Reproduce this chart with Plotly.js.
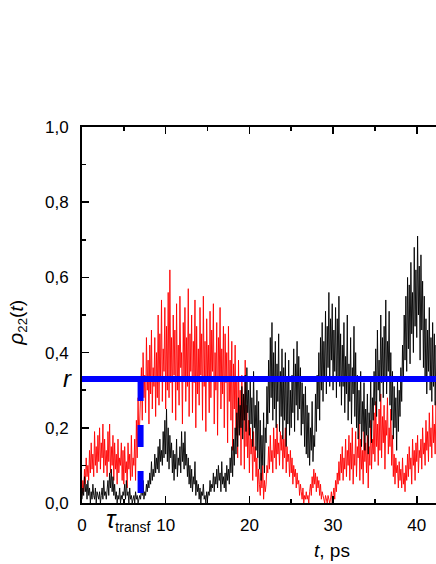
<!DOCTYPE html>
<html>
<head>
<meta charset="utf-8">
<script src="https://cdn.plot.ly/plotly-3.0.1.min.js"></script>
<style>
  html, body { margin: 0; padding: 0; background: #fff; }
  #rhoPlot { width: 436px; height: 564px; }
</style>
</head>
<body>
<div id="rhoPlot"></div>
<script>
// sampled every 0.1 ps starting at t = 0
const tStep = 0.1;

const rhoRed = [
  0.02,0.06,0.03,0.09,0.05,0.12,0.07,0.10,0.06,0.14,
  0.08,0.16,0.09,0.13,0.07,0.19,0.10,0.15,0.08,0.18,
  0.11,0.20,0.09,0.16,0.12,0.21,0.08,0.17,0.10,0.14,
  0.07,0.19,0.11,0.21,0.08,0.15,0.10,0.18,0.06,0.16,
  0.09,0.13,0.05,0.17,0.08,0.12,0.10,0.16,0.06,0.14,
  0.05,0.15,0.08,0.11,0.04,0.16,0.09,0.13,0.06,0.18,
  0.07,0.12,0.10,0.17,0.06,0.22,0.12,0.28,0.15,0.24,
  0.26,0.36,0.22,0.40,0.28,0.34,0.24,0.44,0.30,0.38,
  0.21,0.42,0.29,0.46,0.25,0.36,0.31,0.44,0.23,0.40,
  0.28,0.50,0.26,0.45,0.33,0.54,0.27,0.41,0.35,0.52,
  0.25,0.47,0.30,0.56,0.28,0.62,0.32,0.44,0.24,0.50,
  0.34,0.46,0.22,0.53,0.30,0.42,0.26,0.55,0.36,0.40,
  0.21,0.48,0.33,0.52,0.27,0.44,0.31,0.57,0.23,0.45,
  0.35,0.50,0.24,0.43,0.32,0.54,0.20,0.47,0.29,0.41,
  0.26,0.52,0.34,0.45,0.22,0.55,0.31,0.43,0.19,0.49,
  0.33,0.42,0.24,0.51,0.28,0.46,0.35,0.53,0.21,0.40,
  0.30,0.48,0.18,0.44,0.33,0.52,0.25,0.41,0.29,0.47,
  0.20,0.45,0.32,0.40,0.16,0.47,0.27,0.38,0.22,0.43,
  0.14,0.37,0.25,0.42,0.18,0.33,0.12,0.38,0.20,0.30,
  0.10,0.34,0.22,0.28,0.09,0.38,0.15,0.26,0.12,0.22,
  0.08,0.20,0.13,0.17,0.06,0.19,0.11,0.15,0.07,0.12,
  0.03,0.09,0.05,0.02,0.08,0.04,0.10,0.01,0.06,0.03,
  0.05,0.10,0.08,0.15,0.09,0.18,0.11,0.14,0.08,0.20,
  0.12,0.17,0.09,0.21,0.13,0.16,0.10,0.19,0.14,0.18,
  0.09,0.17,0.12,0.20,0.08,0.15,0.11,0.13,0.07,0.14,
  0.08,0.12,0.05,0.10,0.07,0.09,0.04,0.08,0.05,0.06,
  0.02,0.05,0.03,0.01,0.04,0.00,0.02,0.01,0.03,0.01,
  0.02,0.00,0.03,0.05,0.02,0.07,0.04,0.09,0.05,0.08,
  0.03,0.07,0.04,0.06,0.02,0.05,0.01,0.03,0.02,0.01,
  0.00,0.02,0.01,0.00,0.02,0.01,0.00,0.01,0.03,0.00,
  0.02,0.04,0.01,0.06,0.03,0.08,0.05,0.11,0.06,0.13,
  0.08,0.15,0.06,0.12,0.09,0.17,0.07,0.14,0.10,0.18,
  0.06,0.16,0.09,0.20,0.05,0.13,0.10,0.19,0.07,0.15,
  0.12,0.21,0.06,0.17,0.09,0.14,0.05,0.19,0.11,0.16,
  0.08,0.18,0.04,0.15,0.10,0.22,0.09,0.17,0.13,0.24,
  0.11,0.27,0.15,0.21,0.10,0.25,0.14,0.29,0.12,0.23,
  0.16,0.26,0.09,0.22,0.18,0.28,0.13,0.20,0.15,0.25,
  0.10,0.18,0.07,0.13,0.05,0.12,0.08,0.10,0.04,0.11,
  0.06,0.09,0.04,0.12,0.05,0.08,0.03,0.10,0.06,0.13,
  0.07,0.15,0.09,0.12,0.05,0.17,0.10,0.14,0.06,0.16,
  0.11,0.18,0.08,0.14,0.12,0.17,0.09,0.20,0.13,0.16,
  0.10,0.22,0.14,0.19,0.11,0.24,0.15,0.20,0.12,0.26,
  0.16,0.21,0.13,0.27,0.18
];

const rhoBlack = [
  0.01,0.04,0.02,0.07,0.03,0.05,0.01,0.06,0.02,0.04,
  0.00,0.03,0.01,0.05,0.02,0.01,0.04,0.00,0.03,0.02,
  0.01,0.03,0.00,0.02,0.04,0.01,0.06,0.02,0.03,0.01,
  0.03,0.06,0.02,0.08,0.04,0.09,0.03,0.07,0.02,0.05,
  0.01,0.03,0.00,0.02,0.01,0.04,0.00,0.02,0.01,0.03,
  0.02,0.05,0.01,0.06,0.02,0.03,0.00,0.04,0.01,0.02,
  0.00,0.01,0.02,0.00,0.03,0.01,0.02,0.00,0.01,0.02,
  0.01,0.04,0.02,0.06,0.01,0.03,0.02,0.05,0.03,0.06,
  0.04,0.08,0.05,0.11,0.06,0.09,0.07,0.13,0.08,0.12,
  0.09,0.15,0.08,0.17,0.11,0.14,0.10,0.19,0.12,0.22,
  0.13,0.25,0.11,0.20,0.09,0.18,0.12,0.16,0.08,0.14,
  0.06,0.13,0.09,0.17,0.07,0.12,0.10,0.15,0.08,0.19,
  0.11,0.16,0.09,0.19,0.10,0.13,0.07,0.12,0.05,0.10,
  0.04,0.09,0.03,0.07,0.05,0.11,0.02,0.06,0.03,0.05,
  0.01,0.04,0.00,0.03,0.02,0.05,0.01,0.02,0.00,0.03,
  0.01,0.03,0.02,0.06,0.03,0.05,0.04,0.08,0.03,0.07,
  0.05,0.09,0.04,0.10,0.06,0.08,0.03,0.11,0.05,0.07,
  0.04,0.08,0.03,0.10,0.06,0.09,0.05,0.12,0.08,0.15,
  0.07,0.17,0.10,0.20,0.13,0.24,0.15,0.28,0.18,0.26,
  0.20,0.31,0.17,0.29,0.22,0.34,0.19,0.36,0.24,0.30,
  0.18,0.33,0.21,0.28,0.15,0.35,0.20,0.26,0.14,0.30,
  0.12,0.27,0.09,0.22,0.06,0.18,0.10,0.24,0.08,0.20,
  0.16,0.31,0.21,0.38,0.24,0.44,0.28,0.48,0.22,0.40,
  0.25,0.43,0.20,0.37,0.27,0.45,0.19,0.35,0.23,0.41,
  0.17,0.36,0.22,0.40,0.15,0.33,0.21,0.38,0.18,0.30,
  0.20,0.34,0.24,0.41,0.19,0.37,0.26,0.43,0.22,0.39,
  0.25,0.36,0.18,0.32,0.21,0.29,0.15,0.31,0.13,0.26,
  0.12,0.24,0.10,0.20,0.14,0.27,0.11,0.18,0.15,0.29,
  0.19,0.34,0.25,0.40,0.22,0.44,0.30,0.48,0.27,0.43,
  0.33,0.51,0.29,0.47,0.36,0.56,0.31,0.49,0.38,0.53,
  0.30,0.46,0.35,0.52,0.28,0.49,0.33,0.55,0.31,0.45,
  0.26,0.42,0.31,0.48,0.24,0.39,0.29,0.50,0.22,0.37,
  0.27,0.44,0.21,0.36,0.29,0.47,0.23,0.40,0.20,0.34,
  0.17,0.30,0.21,0.35,0.15,0.27,0.19,0.32,0.14,0.25,
  0.18,0.29,0.13,0.24,0.20,0.33,0.16,0.28,0.22,0.35,
  0.26,0.41,0.23,0.46,0.30,0.38,0.27,0.50,0.32,0.44,
  0.28,0.47,0.33,0.54,0.29,0.43,0.35,0.51,0.26,0.40,
  0.22,0.35,0.17,0.31,0.20,0.28,0.14,0.33,0.19,0.30,
  0.23,0.36,0.27,0.42,0.33,0.50,0.38,0.55,0.35,0.60,
  0.41,0.58,0.37,0.64,0.45,0.56,0.40,0.68,0.47,0.62,
  0.44,0.71,0.50,0.63,0.38,0.66,0.46,0.59,0.36,0.55,
  0.33,0.49,0.29,0.46,0.35,0.52,0.30,0.44,0.27,0.48,
  0.31,0.45,0.26,0.42,0.34
];

const rLevel = 0.33;
const tTransf = 7.0;
const xMax = 42.3;
const yTicks = [0, 0.2, 0.4, 0.6, 0.8, 1.0];
const xTicks = [0, 10, 20, 30, 40];

const plotDiv = document.getElementById('rhoPlot');
const font = 'Liberation Sans, Arial, sans-serif';

const tRed = rhoRed.map(function(v, i) { return +(i * tStep).toFixed(1); });
const tBlack = rhoBlack.map(function(v, i) { return +(i * tStep).toFixed(1); });

const data = [
  { x: tRed, y: rhoRed, mode: 'lines', line: { color: '#ff0000', width: 0.9 }, showlegend: false, hoverinfo: 'skip' },
  { x: tBlack, y: rhoBlack, mode: 'lines', line: { color: '#000000', width: 0.9 }, showlegend: false, hoverinfo: 'skip' },
  { x: [0, xMax], y: [rLevel, rLevel], mode: 'lines', line: { color: '#0000ff', width: 6 }, showlegend: false, hoverinfo: 'skip' },
  { x: [tTransf, tTransf], y: [rLevel, 0], mode: 'lines', line: { color: '#0000ff', width: 6, dash: '22px,24px' }, showlegend: false, hoverinfo: 'skip' }
];

const layout = {
  width: 436,
  height: 564,
  margin: { l: 82, r: 0, t: 127, b: 61 },
  paper_bgcolor: '#ffffff',
  plot_bgcolor: '#ffffff',
  separators: ',.',
  font: { family: font, size: 17, color: '#000' },
  xaxis: {
    range: [0, xMax],
    tickvals: xTicks,
    ticktext: xTicks.map(String),
    ticks: 'inside',
    ticklen: 7,
    tickwidth: 1.5,
    tickcolor: '#000',
    showline: true,
    linewidth: 2,
    linecolor: '#000',
    mirror: 'ticks',
    showgrid: false,
    zeroline: false,
    ticklabelstandoff: 6,
    minor: { ticks: 'inside', ticklen: 4, tickwidth: 1.5, tickcolor: '#000', dtick: 5, tick0: 0, showgrid: false }
  },
  yaxis: {
    range: [0, 1],
    tickvals: yTicks,
    tickformat: '.1f',
    ticks: 'inside',
    ticklen: 7,
    tickwidth: 1.5,
    tickcolor: '#000',
    showline: true,
    linewidth: 2,
    linecolor: '#000',
    showgrid: false,
    zeroline: false,
    ticklabelstandoff: 8,
    minor: { ticks: 'inside', ticklen: 4, tickwidth: 1.5, tickcolor: '#000', dtick: 0.1, tick0: 0, showgrid: false }
  },
  annotations: [
    { text: '<i><span style="font-size:21px">ρ</span></i><sub>22</sub>(<i>t</i>)', xref: 'paper', yref: 'paper', x: -0.184, y: 0.479,
      textangle: -90, showarrow: false, xanchor: 'center', yanchor: 'middle', font: { size: 19 } },
    { text: '<i>r</i>', xref: 'paper', yref: 'y', x: -0.04, y: rLevel,
      showarrow: false, xanchor: 'center', yanchor: 'middle', font: { size: 24 } },
    { text: '<i><span style="font-size:25px">τ</span></i><sub>transf</sub>', xref: 'x', yref: 'paper', x: 5.5, y: -0.045,
      showarrow: false, xanchor: 'center', yanchor: 'middle', font: { size: 20 } },
    { text: '<i>t</i>, ps', xref: 'x', yref: 'paper', x: 29.9, y: -0.125,
      showarrow: false, xanchor: 'center', yanchor: 'middle', font: { size: 19 } }
  ]
};

Plotly.newPlot(plotDiv, data, layout, { staticPlot: true, displayModeBar: false });
</script>
</body>
</html>
